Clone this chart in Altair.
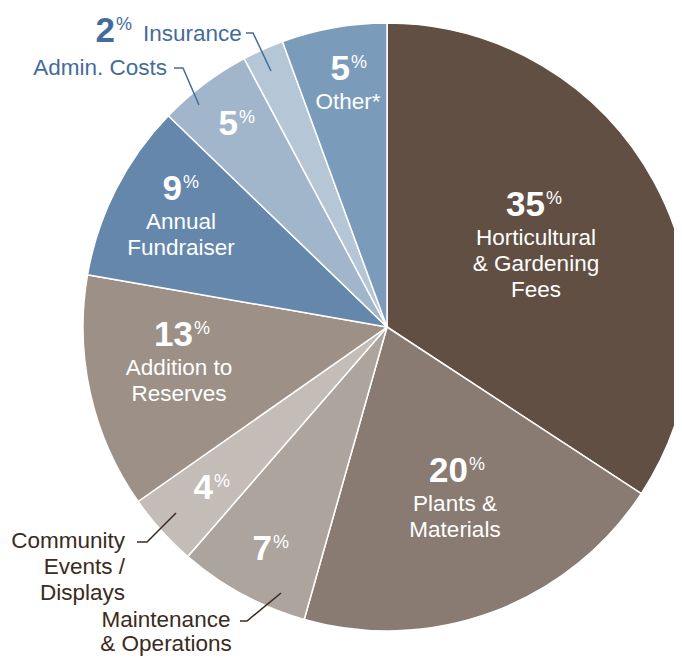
import altair as alt
import pandas as pd

# ---------------- data ----------------
categories = ["Horticultural & Gardening Fees", "Plants & Materials", "Maintenance & Operations",
              "Community Events / Displays", "Addition to Reserves", "Annual Fundraiser",
              "Admin. Costs", "Insurance", "Other*"]
shares = [34.3, 20.2, 7.0, 3.9, 12.5, 9.5, 5.0, 2.2, 5.6]      # slice sizes as drawn
pct_labels = [35, 20, 7, 4, 13, 9, 5, 2, 5]                      # printed percentages
inside_names = [["Horticultural", "& Gardening", "Fees"], ["Plants &", "Materials"], [], [],
                ["Addition to", "Reserves"], ["Annual", "Fundraiser"], [], [], ["Other*"]]
outside_names = {"Insurance": ["Insurance"], "Admin. Costs": ["Admin. Costs"],
                 "Community Events / Displays": ["Community", "Events /", "Displays"],
                 "Maintenance & Operations": ["Maintenance", "& Operations"]}
slice_colors = ["#614f43", "#897b71", "#aca49d", "#c4bcb7", "#9c9087",
                "#6587ac", "#a2b6cb", "#b5c6d7", "#7b9bba"]

# ---------------- layout (annotation placement, px offsets from pie centre) ----------------
CX, CY, R = 379, 319, 304
BROWN, BLUE, WHITE = "#3b2b20", "#446c9b", "#ffffff"
FONT = "Liberation Sans"
# number right edge dx, number baseline dy, name centre dx, number colour
num_layout = [(158, -111, 149, WHITE), (81, 155, 68, WHITE), (-115, 233, None, WHITE),
              (-174, 172, None, WHITE), (-194, 19, -208, WHITE), (-205, -127, -206, WHITE),
              (-149, -192, None, WHITE), (-272, -285, None, BLUE), (-37, -247, -39, WHITE)]
FIRST_GAP, LINE_GAP = 29, 26
outside_layout = {  # align, anchor dx, first baseline dy, line gap, colour
    "Insurance": ("left", -244, -286, 26, BLUE),
    "Admin. Costs": ("right", -220, -252, 26, BLUE),
    "Community Events / Displays": ("right", -262, 221, 26, BROWN),
    "Maintenance & Operations": ("center", -221, 300, 24, BROWN),
}
leaders = {
    "Insurance": [(-141, -294), (-134, -294), (-116, -256)],
    "Admin. Costs": [(-213, -259), (-204, -259), (-188, -222)],
    "Community Events / Displays": [(-250, 215), (-240, 215), (-211, 186)],
    "Maintenance & Operations": [(-147, 294), (-140, 294), (-106, 266)],
}

# ---------------- tables ----------------
slices = pd.DataFrame({"cat": categories, "share": shares, "idx": range(len(categories))})

num_rows, pct_rows, text_rows = [], [], []
for i, (p, names, (nx, ny, tx, col)) in enumerate(zip(pct_labels, inside_names, num_layout)):
    num_rows.append({"x": CX + nx, "y": CY + ny, "t": str(p), "c": col})
    pct_rows.append({"x": CX + nx + 1, "y": CY + ny - 12, "t": "%", "c": col})
    for k, line in enumerate(names):
        text_rows.append({"x": CX + tx, "y": CY + ny + FIRST_GAP + k * LINE_GAP,
                          "t": line, "c": WHITE, "a": "center"})
for cat, lines in outside_names.items():
    a, dx, dy, gap, col = outside_layout[cat]
    for k, line in enumerate(lines):
        text_rows.append({"x": CX + dx, "y": CY + dy + k * gap, "t": line, "c": col, "a": a})

lead_rows = []
for cat, pts in leaders.items():
    col = outside_layout[cat][4]
    for k, (dx, dy) in enumerate(pts):
        lead_rows.append({"g": cat, "k": k, "x": CX + dx, "y": CY + dy, "c": col})

nums = pd.DataFrame(num_rows)
pcts = pd.DataFrame(pct_rows)
texts = pd.DataFrame(text_rows)
leads = pd.DataFrame(lead_rows)

# ---------------- chart ----------------
pie = alt.Chart(slices).mark_arc(radius=R, stroke="white", strokeWidth=1.5).encode(
    theta=alt.Theta("share:Q", stack=True),
    color=alt.Color("cat:N", scale=alt.Scale(domain=categories, range=slice_colors), legend=None),
    order=alt.Order("idx:Q"),
    x=alt.value(CX), y=alt.value(CY),
)

def pos(df_chart):
    return df_chart.encode(
        x=alt.X("x:Q", scale=None, axis=None),
        y=alt.Y("y:Q", scale=None, axis=None),
        text="t:N",
        color=alt.Color("c:N", scale=None),
    )

num_layer = pos(alt.Chart(nums).mark_text(align="right", baseline="alphabetic",
                                          font=FONT, fontSize=35, fontWeight="bold"))
pct_layer = pos(alt.Chart(pcts).mark_text(align="left", baseline="alphabetic",
                                          font=FONT, fontSize=18))
text_layers = []
for a in ["center", "left", "right"]:
    sub = texts[texts["a"] == a]
    text_layers.append(pos(alt.Chart(sub).mark_text(align=a, baseline="alphabetic",
                                                    font=FONT, fontSize=22.5)))

lead_layer = alt.Chart(leads).mark_line(strokeWidth=1.5).encode(
    x=alt.X("x:Q", scale=None, axis=None),
    y=alt.Y("y:Q", scale=None, axis=None),
    detail="g:N",
    order="k:Q",
    color=alt.Color("c:N", scale=None),
)

chart = alt.layer(pie, lead_layer, num_layer, pct_layer, *text_layers).properties(
    width=666, height=648, padding=0,
    autosize=alt.AutoSizeParams(type="none"),
).configure_view(stroke=None)

chart.save("out.html", embed_options={"renderer": "svg", "actions": False})
